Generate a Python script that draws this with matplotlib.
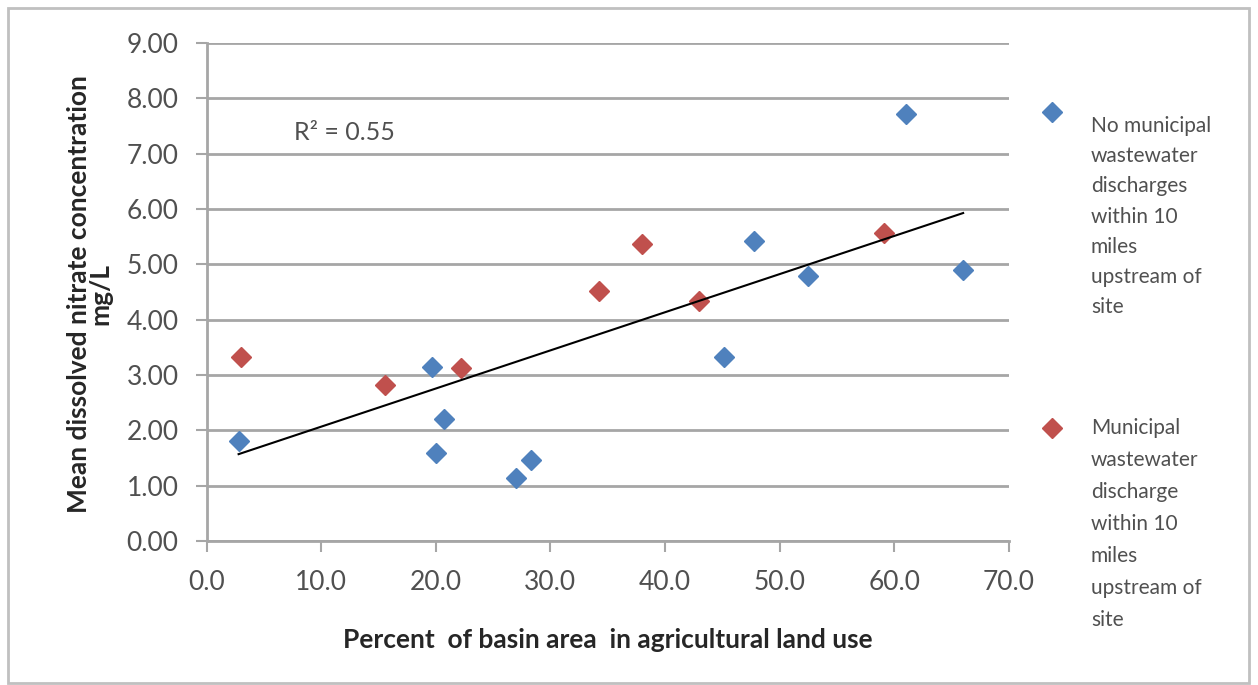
import numpy as np
import matplotlib
matplotlib.use("Agg")
import matplotlib.pyplot as plt
from matplotlib.lines import Line2D
from matplotlib.patches import Rectangle

plt.rcParams['font.family'] = ['Lato', 'DejaVu Sans']

# --- data ---
no_ww_x = [2.8, 19.7, 20.0, 20.7, 27.0, 28.3, 45.1, 47.8, 52.5, 61.0, 66.0]
no_ww_y = [1.80, 3.15, 1.59, 2.20, 1.13, 1.46, 3.33, 5.43, 4.79, 7.72, 4.90]
ww_x = [3.0, 15.6, 22.2, 34.2, 38.0, 43.0, 59.1]
ww_y = [3.33, 2.82, 3.13, 4.52, 5.37, 4.33, 5.56]

label_no = "No municipal\nwastewater\ndischarges\nwithin 10\nmiles\nupstream of\nsite"
label_ww = "Municipal\nwastewater\ndischarge\nwithin 10\nmiles\nupstream of\nsite"
r2_text = "R² = 0.55"
xlabel = "Percent  of basin area  in agricultural land use"
ylabel = "Mean dissolved nitrate concentration\nmg/L"
xticks = [0, 10, 20, 30, 40, 50, 60, 70]
yticks = [0, 1, 2, 3, 4, 5, 6, 7, 8, 9]

blue = "#4F81BD"
red = "#C0504D"
grid_c = "#a6a6a6"
text_c = "#505050"

W, H = 1258, 685
fig = plt.figure(figsize=(W / 100, H / 100), dpi=100)
fig.patch.set_facecolor("white")

# outer border
fig.add_artist(Rectangle((8 / W, 2 / H), (1249 - 8) / W, (677 - 2) / H,
                         transform=fig.transFigure, fill=False,
                         edgecolor="#c0c0c0", linewidth=2))

ax = fig.add_axes([206.5 / W, 1 - 541 / H, (1009 - 206.5) / W, (541 - 43) / H])
ax.set_xlim(0, 70)
ax.set_ylim(0, 9)
ax.set_xticks(xticks)
ax.set_yticks(yticks)
ax.set_xticklabels([f"{v:.1f}" for v in xticks])
ax.set_yticklabels([f"{v:.2f}" for v in yticks])

for s in ["top", "right"]:
    ax.spines[s].set_visible(False)
for s in ["left", "bottom"]:
    ax.spines[s].set_color(grid_c)
    ax.spines[s].set_linewidth(2)

ax.grid(axis="y", color=grid_c, linewidth=2)
ax.set_axisbelow(True)
ax.tick_params(axis="both", colors=grid_c, width=1.5, length=8, labelsize=19,
               labelcolor=text_c)
ax.tick_params(axis="x", pad=13)
ax.tick_params(axis="y", pad=12)

# scatter
ax.plot(no_ww_x, no_ww_y, linestyle="none", marker="D", markersize=10,
        color=blue, zorder=3)
ax.plot(ww_x, ww_y, linestyle="none", marker="D", markersize=10,
        color=red, zorder=3)

# linear trendline over all points
all_x = np.array(no_ww_x + ww_x)
all_y = np.array(no_ww_y + ww_y)
slope, intercept = np.polyfit(all_x, all_y, 1)
tx = np.array([all_x.min(), all_x.max()])
ax.plot(tx, slope * tx + intercept, color="black", linewidth=1.5, zorder=4)

ax.text(7.6, 7.38, r2_text, fontsize=18, color=text_c, va="center", ha="left")

ax.set_xlabel(xlabel, fontsize=19, fontweight="bold", color="#262626", labelpad=24)
fig.text(90 / W, 1 - 294 / H, ylabel, rotation=90, fontsize=19,
         fontweight="bold", color="#262626", ha="center", va="center",
         multialignment="center", linespacing=0.88)

# legend (manual)
fig.add_artist(Line2D([1052 / W], [1 - 112 / H], marker="D", markersize=10,
                      color=blue, linestyle="none", transform=fig.transFigure))
fig.add_artist(Line2D([1052 / W], [1 - 428 / H], marker="D", markersize=10,
                      color=red, linestyle="none", transform=fig.transFigure))
fig.text(1091 / W, 1 - 116 / H, label_no, fontsize=15, color=text_c,
         ha="left", va="top", linespacing=1.64)
fig.text(1091 / W, 1 - 418 / H, label_ww, fontsize=15, color=text_c,
         ha="left", va="top", linespacing=1.75)

fig.savefig("out.png", dpi=100, facecolor="white")
